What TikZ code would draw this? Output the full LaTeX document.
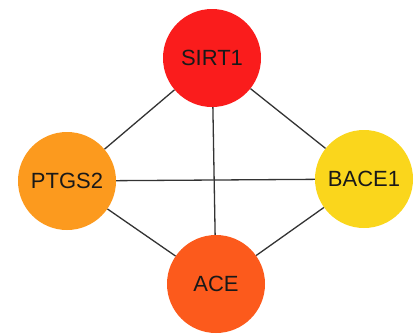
\documentclass[tikz,border=0pt]{standalone}
\usepackage{fontspec}
\setmainfont{Liberation Sans}
\definecolor{sirtred}{HTML}{FA1C1C}
\definecolor{ptgsorange}{HTML}{FC9A1E}
\definecolor{baceyellow}{HTML}{FAD61C}
\definecolor{aceorange}{HTML}{FC5A1C}
\definecolor{edgegray}{HTML}{333333}
\begin{document}
\begin{tikzpicture}[x=1pt,y=-1pt,
  gene/.style={circle,minimum size=98pt,inner sep=0pt,font=\fontsize{22}{25}\selectfont,text=black!90},
  link/.style={draw=edgegray,line width=1.3pt}]
\useasboundingbox (0,0) rectangle (419,335);
% gene nodes
\node[gene,fill=sirtred]    (sirt1) at (212,58)  {SIRT1};
\node[gene,fill=ptgsorange] (ptgs2) at (67,181)  {PTGS2};
\node[gene,fill=baceyellow] (bace1) at (364,179) {BACE1};
\node[gene,fill=aceorange]  (ace)   at (216,284) {ACE};
% interactions
\draw[link] (sirt1) -- (ptgs2);
\draw[link] (sirt1) -- (bace1);
\draw[link] (sirt1) -- (ace);
\draw[link] (ptgs2) -- (bace1);
\draw[link] (ptgs2) -- (ace);
\draw[link] (bace1) -- (ace);
\end{tikzpicture}
\end{document}
